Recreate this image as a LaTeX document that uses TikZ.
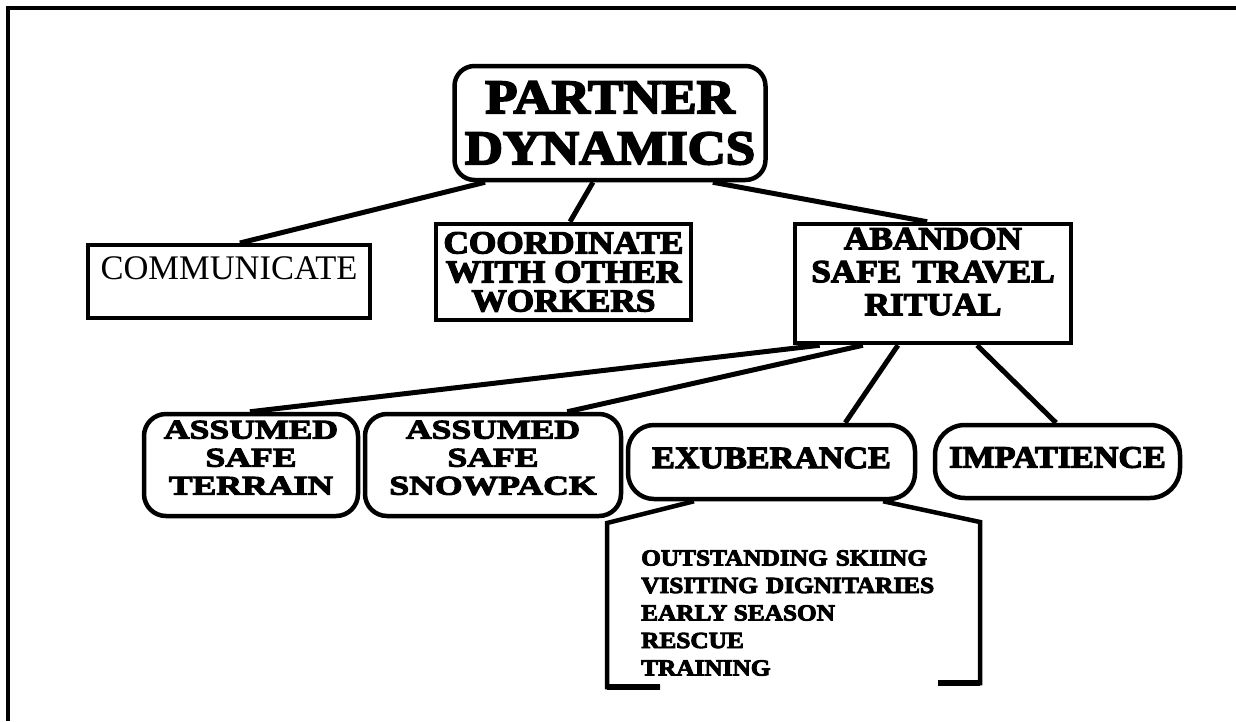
\documentclass[tikz,border=0pt]{standalone}
\usepackage{fontspec}
\setmainfont{Liberation Serif}
\newfontfamily\heavy{Liberation Serif Bold}[FakeBold=4,FakeStretch=1.1]
\newfontfamily\heavywide{Liberation Serif Bold}[FakeBold=4,FakeStretch=1.32]
\usetikzlibrary{calc}
% shift text vertically without changing the size of its box
\newcommand\lift[2]{\raisebox{#1}[\height][\depth]{#2}}
\newcommand\gap{\hspace{0.35em}}

\begin{document}
\begin{tikzpicture}[x=1pt,y=-1pt,
  box/.style={draw, line width=4.5pt, inner sep=0pt, align=center, fill=white},
  link/.style={line width=5pt},
  bracket/.style={line width=4.5pt, line join=miter},
  big/.style={font=\heavy\fontsize{48}{51}\selectfont},
  mid/.style={font=\heavy\fontsize{32}{29}\selectfont},
  wide/.style={font=\heavywide\fontsize{27}{28}\selectfont},
  leaf/.style={font=\heavy\fontsize{31}{33}\selectfont},
  small/.style={font=\heavy\fontsize{23}{27.5}\selectfont},
]
\useasboundingbox (0,0) rectangle (1236,721);
\fill[white] (0,0) rectangle (1236,721);
% page frame
\draw[line width=3.5pt] (1236,8) -- (8,8) -- (8,721);

% top level
\node[box, big, rounded corners=20pt, minimum width=311pt, minimum height=114pt]
  (root) at (610,123) {PARTNER\\DYNAMICS};

% second level
\node[box, line width=4pt, minimum width=282pt, minimum height=73pt,
  font=\fontsize{34.5}{36}\selectfont]
  (comm) at (229,281.5) {\lift{13pt}{COMMUNICATE}};
\node[box, mid, minimum width=255pt, minimum height=96pt]
  (coord) at (563.5,272) {COORDINATE\\WITH OTHER\\WORKERS};
\node[box, minimum width=276pt, minimum height=119pt,
  font=\heavy\fontsize{32}{33}\selectfont]
  (abandon) at (933,283.5)
  {\lift{8pt}{\begin{tabular}{@{}c@{}}ABANDON\\SAFE\gap TRAVEL\\RITUAL\end{tabular}}};

% third level
\node[box, wide, rounded corners=22pt, minimum width=214pt, minimum height=102pt]
  (terrain) at (251,465)
  {\lift{4pt}{\begin{tabular}{@{}c@{}}ASSUMED\\SAFE\\TERRAIN\end{tabular}}};
\node[box, wide, rounded corners=22pt, minimum width=256pt, minimum height=102pt]
  (snow) at (493,465)
  {\lift{4pt}{\begin{tabular}{@{}c@{}}ASSUMED\\SAFE\\SNOWPACK\end{tabular}}};
\node[box, leaf, rounded corners=26pt, minimum width=287pt, minimum height=74pt]
  (exub) at (771.5,462) {\lift{4pt}{EXUBERANCE}};
\node[box, leaf, rounded corners=30pt, minimum width=245pt, minimum height=73pt]
  (impat) at (1057.5,461.5) {\lift{4pt}{IMPATIENCE}};

% connectors
\draw[link] ($(root.south west)!0.104!(root.south east)$) -- ($(comm.north west)!0.538!(comm.north east)$);
\draw[link] ($(root.south west)!0.446!(root.south east)$) -- ($(coord.north west)!0.525!(coord.north east)$);
\draw[link] ($(root.south west)!0.826!(root.south east)$) -- ($(abandon.north west)!0.479!(abandon.north east)$);
\draw[link] ($(abandon.south west)!0.096!(abandon.south east)$) -- ($(terrain.north west)!0.495!(terrain.north east)$);
\draw[link] ($(abandon.south west)!0.25!(abandon.south east)$) -- ($(snow.north west)!0.785!(snow.north east)$);
\draw[link] ($(abandon.south west)!0.375!(abandon.south east)$) -- ($(exub.north west)!0.753!(exub.north east)$);
\draw[link] ($(abandon.south west)!0.657!(abandon.south east)$) -- ($(impat.north west)!0.494!(impat.north east)$);

% open bracket under EXUBERANCE with its list
\coordinate (bl1) at (607,523);
\coordinate (bl2) at (607,687);
\coordinate (bl3) at (660,687);
\coordinate (br1) at (980,522);
\coordinate (br2) at (980,683);
\coordinate (br3) at (938,683);
\draw[bracket] ($(exub.south west)!0.234!(exub.south east)$) -- (bl1) -- (bl2) -- (bl3);
\draw[bracket] ($(exub.south west)!0.883!(exub.south east)$) -- (br1) -- (br2) -- (br3);
\draw[line width=6pt] (bl2) -- (bl3);
\draw[line width=6pt] (br2) -- (br3);

\node[small, align=left, anchor=west, inner sep=0pt] (list) at (641,613)
  {OUTSTANDING\gap SKIING\\VISITING\gap DIGNITARIES\\EARLY SEASON\\RESCUE\\TRAINING};
\end{tikzpicture}
\end{document}
